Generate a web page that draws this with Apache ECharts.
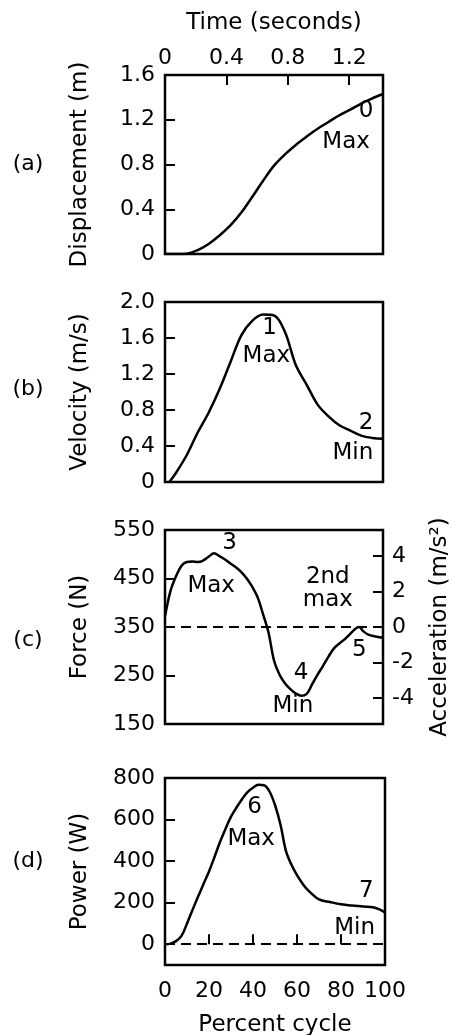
<!DOCTYPE html>
<html><head><meta charset="utf-8">
<script src="https://cdn.jsdelivr.net/npm/echarts@6/dist/echarts.min.js"></script>
<style>html,body{margin:0;padding:0;background:#fff}#c{width:452px;height:1035px}</style>
</head><body><div id="c"></div>
<script>
// ---------- data ----------
const dispPct = [0,5,10,15,20,25,30,35,40,45,50,55,60,65,70,75,80,85,90,95,100];
const displacement = [0,0,0.003,0.035,0.09,0.165,0.255,0.37,0.51,0.655,0.79,0.89,0.975,1.05,1.12,1.18,1.24,1.29,1.345,1.39,1.43];

const velPct = [2,5,10,15,20,25,30,35,40,45,50,55,60,65,70,75,80,85,90,95,100];
const velocity = [0,0.10,0.30,0.55,0.77,1.03,1.33,1.63,1.79,1.86,1.85,1.67,1.30,1.08,0.86,0.73,0.63,0.57,0.515,0.49,0.48];

const forcePct = [0,2.5,5,7.5,10,12.5,15,17.5,20,22.5,25,27.5,30,32.5,35,37.5,40,42.5,45,47.5,50,52.5,55,57.5,60,62.5,65,67.5,70,72.5,75,77.5,80,82.5,85,87.5,89,91,93,96,100];
const force = [372,424,454,476,484,485,484,487,495,502,496,489,481,473,463,450,433,411,376,338,281,252,234,222,213,208,212,232,252,270,289,306,316,325,336,347,350,341,335,331,328];

const powPct = [0,2.5,5,7.5,10,12.5,15,17.5,20,22.5,25,27.5,30,32.5,35,37.5,40,42.5,45,47.5,50,52.5,55,57.5,60,62.5,65,70,75,80,85,90,95,97.5,100];
const power = [0,3,15,40,100,165,228,290,350,420,492,555,614,658,698,732,753,767,765,735,670,575,448,382,332,292,260,216,203,192,186,182,177,168,153];

// tick labels
const timeTicks = [0,0.4,0.8,1.2];
const forceTicks = [150,250,350,450,550];
const accelTicks = [-4,-2,0,2,4];
const powerTicks = [-100,0,200,400,600,800];
const pctTicks = [0,20,40,60,80,100];

// annotations [percent, value, text]
const annA = [[92.5,1.27,'0'],[83.3,1.0,'Max']];
const annB = [[48.2,1.71,'1'],[46.7,1.39,'Max'],[92.5,0.65,'2'],[86.4,0.32,'Min']];
const annC = [[29.8,522,'3'],[21.4,433,'Max'],[74.9,453,'2nd'],[74.9,405,'max'],[62.7,254,'4'],[58.9,185,'Min'],[89.4,302,'5']];
const annD = [[40.9,656,'6'],[39.4,502,'Max'],[91.7,252,'7'],[86.4,75,'Min']];
const panelLabels = ['(a)','(b)','(c)','(d)'];

// ---------- chart ----------
const FONT = 'DejaVu Sans';
const BLACK = '#000';
const txt = {color:BLACK, fontFamily:FONT, fontSize:22};
const nameTxt = {color:BLACK, fontFamily:FONT, fontSize:23};
const tick = {show:true, inside:true, length:10, lineStyle:{color:BLACK, width:2}};
const fmt1 = v => (Math.abs(v) < 1e-9 ? '0' : (+v).toFixed(1));

const pair = (xs, ys) => xs.map((x,i) => [x, ys[i]]);

const grids = [
  {left:165, top:75, width:218, height:179},
  {left:165, top:302, width:218, height:180},
  {left:165, top:530, width:218, height:194},
  {left:165, top:778, width:220, height:187}
].map(g => Object.assign(g, {show:true, borderColor:BLACK, borderWidth:2.5, backgroundColor:'transparent', outerBoundsMode:'none', containLabel:false}));

const pctAxis = (i, visible) => ({
  gridIndex:i, type:'value', min:0, max:100, interval:20, position:'bottom',
  axisLine:{show:false},
  axisTick: visible ? Object.assign({}, tick, {customValues:[20,40,60,80]}) : {show:false},
  axisLabel: visible ? Object.assign({}, txt, {margin:15, customValues:pctTicks}) : {show:false},
  splitLine:{show:false},
  name: visible ? 'Percent cycle' : '', nameLocation:'middle', nameGap:49, nameTextStyle:nameTxt
});

const xAxes = [pctAxis(0,false), pctAxis(1,false), pctAxis(2,false), pctAxis(3,true),
  {gridIndex:0, type:'value', position:'top', min:0, max:1.42,
   axisLine:{show:false},
   axisTick:Object.assign({}, tick, {customValues:[0.4,0.8,1.2]}),
   axisLabel:Object.assign({}, txt, {margin:6, customValues:timeTicks, formatter:fmt1}),
   splitLine:{show:false},
   name:'Time (seconds)', nameLocation:'middle', nameGap:40, nameTextStyle:nameTxt}
];

const yBase = (i, name, extra) => Object.assign({
  gridIndex:i, type:'value', position:'left',
  axisLine:{show:false}, splitLine:{show:false},
  name:name, nameLocation:'middle', nameGap:73, nameTextStyle:nameTxt
}, extra);

const yAxes = [
  yBase(0, 'Displacement (m)', {min:0, max:1.6, interval:0.4,
    axisTick:Object.assign({}, tick, {customValues:[0.4,0.8,1.2]}),
    axisLabel:Object.assign({}, txt, {margin:10, formatter:fmt1})}),
  yBase(1, 'Velocity (m/s)', {min:0, max:2.0, interval:0.4,
    axisTick:Object.assign({}, tick, {customValues:[0.4,0.8,1.2,1.6]}),
    axisLabel:Object.assign({}, txt, {margin:10, formatter:fmt1})}),
  yBase(2, 'Force (N)', {min:150, max:550,
    axisTick:Object.assign({}, tick, {customValues:[250,350,450]}),
    axisLabel:Object.assign({}, txt, {margin:10, customValues:forceTicks})}),
  yBase(3, 'Power (W)', {min:-100, max:800,
    axisTick:Object.assign({}, tick, {customValues:[0,200,400,600]}),
    axisLabel:Object.assign({}, txt, {margin:10, customValues:powerTicks})}),
  yBase(2, 'Acceleration (m/s\u00B2)', {position:'right', min:-5.46, max:5.46, nameGap:46,
    axisTick:Object.assign({}, tick, {customValues:accelTicks}),
    axisLabel:Object.assign({}, txt, {margin:9, customValues:accelTicks})})
];

const curve = (i, data, mark) => {
  const s = {type:'line', xAxisIndex:i, yAxisIndex:i, data:data, smooth:0.35,
    symbol:'none', showSymbol:false, silent:true, lineStyle:{color:BLACK, width:2.5}, z:5};
  if (mark !== undefined) {
    s.markLine = {silent:true, symbol:['none','none'], label:{show:false},
      lineStyle:{type:[10,6], color:BLACK, width:2}, data:[{yAxis:mark}]};
  }
  return s;
};
const notes = (i, arr) => ({
  type:'scatter', xAxisIndex:i, yAxisIndex:i, symbolSize:1, silent:true, z:10,
  itemStyle:{color:'rgba(0,0,0,0)'},
  data: arr.map(a => ({value:[a[0], a[1]], label:{formatter:a[2]}})),
  label:{show:true, position:[0,0], align:'center', verticalAlign:'middle',
    color:'#000', opacity:1, textBorderWidth:0, fontFamily:FONT, fontSize:23}
});

const labelY = [164, 389, 640, 861];
const option = {
  animation:false,
  backgroundColor:'#fff',
  grid:grids,
  xAxis:xAxes,
  yAxis:yAxes,
  series:[
    curve(0, pair(dispPct, displacement)),
    curve(1, pair(velPct, velocity)),
    curve(2, pair(forcePct, force), 350),
    curve(3, pair(powPct, power), 0),
    notes(0, annA), notes(1, annB), notes(2, annC), notes(3, annD)
  ],
  graphic: panelLabels.map((t, i) => ({
    type:'text', x:28, y:labelY[i], silent:true,
    style:{text:t, fill:BLACK, fontFamily:FONT, fontSize:22, align:'center', verticalAlign:'middle', textAlign:'center', textVerticalAlign:'middle'}
  }))
};

const chart = echarts.init(document.getElementById('c'), null, {renderer:'canvas'});
chart.setOption(option);
</script>
</body></html>
